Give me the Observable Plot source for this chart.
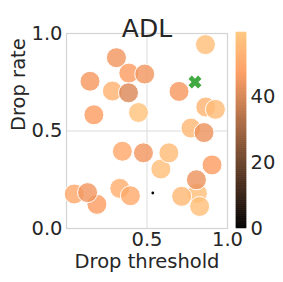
<!DOCTYPE html>
<html><head><meta charset="utf-8">
<script src="https://cdn.jsdelivr.net/npm/d3@7"></script>
<script src="https://cdn.jsdelivr.net/npm/@observablehq/plot@0.6"></script>
<style>
body{margin:0;background:#fff}
#wrap{position:relative;width:283px;height:282px}
#wrap svg{position:absolute;left:0;top:0}
</style>
</head><body><div id="wrap"></div>
<script>
const titleText = "ADL";
const xLabel = "Drop threshold";
const yLabel = "Drop rate";
// draw order matters for overlaps
const dropThreshold = [0.863,0.310,0.285,0.387,0.486,0.146,0.385,0.699,0.170,0.447,0.865,0.925,0.773,0.854,0.347,0.478,0.586,0.636,0.904,0.048,0.189,0.131,0.331,0.397,0.813,0.715,0.827,0.807];
const dropRate =      [0.943,0.876,0.705,0.797,0.792,0.755,0.696,0.703,0.583,0.595,0.623,0.611,0.515,0.492,0.396,0.388,0.305,0.388,0.326,0.177,0.124,0.184,0.206,0.168,0.180,0.165,0.113,0.250];
const colorValue =    [57,45,53,47,45,46,41,46,47,58,54,56,55,44,50,45,57,56,47,50,47,45,52,51,57,55,57,44];
const bestPoint = [{threshold: 0.798, rate: 0.751}];
const minPoint = [{threshold: 0.536, rate: 0.182, value: 0}];
const colorDomain = [0, 59.4];
const colorTicks = [0, 20, 40];
const xTicks = [0.5, 1.0];
const yTicks = [0.0, 0.5, 1.0];

const copper = t => d3.rgb(Math.min(1, 1.25*t)*255, 0.7812*t*255, 0.4975*t*255).formatHex();
const points = dropThreshold.map((x, i) => ({x, y: dropRate[i], v: colorValue[i]}));

const filledX = { draw(ctx, size) {
  const a = Math.sqrt(size / Math.PI), w = a * 0.35, c = Math.SQRT1_2;
  const pts = [[w,a],[w,w],[a,w],[a,-w],[w,-w],[w,-a],[-w,-a],[-w,-w],[-a,-w],[-a,w],[-w,w],[-w,a]];
  pts.forEach(([x,y], i) => { const X = (x-y)*c, Y = (x+y)*c; i ? ctx.lineTo(X,Y) : ctx.moveTo(X,Y); });
  ctx.closePath();
}};

const FS = 19.5;
const common = {
  width: 283, height: 282,
  marginTop: 33, marginBottom: 54,
  style: {fontFamily: "DejaVu Sans", fontSize: FS + "px", color: "#262626", background: "none", overflow: "visible"}
};

const main = Plot.plot({
  ...common,
  marginLeft: 66, marginRight: 56,
  x: {domain: [0, 1]},
  y: {domain: [0, 1]},
  color: {type: "linear", domain: colorDomain, interpolate: copper},
  marks: [
    Plot.gridX([0.5], {stroke: "#dcdcdc", strokeOpacity: 1}),
    Plot.gridY([0.5], {stroke: "#dcdcdc", strokeOpacity: 1}),
    Plot.frame({stroke: "#d4d4d4", strokeWidth: 1.2}),
    Plot.axisX(xTicks, {tickSize: 0, tickPadding: 4, tickFormat: d => d.toFixed(1), fontSize: FS, label: null}),
    Plot.axisY(yTicks, {tickSize: 0, tickPadding: 4, tickFormat: d => d.toFixed(1), fontSize: FS, label: null}),
    Plot.dot(points, {x: "x", y: "y", fill: "v", r: 10, fillOpacity: 0.82, stroke: "white", strokeWidth: 1}),
    Plot.dot(minPoint, {x: "threshold", y: "rate", r: 1.4, fill: "black"}),
    Plot.dot(bestPoint, {x: "threshold", y: "rate", r: 6.8, symbol: filledX, fill: "#2ca02c", fillOpacity: 0.9}),
    Plot.text([titleText], {frameAnchor: "top", dy: -14, fontSize: 25}),
    Plot.text([xLabel], {frameAnchor: "bottom", dy: 39, fontSize: FS}),
    Plot.text([yLabel], {frameAnchor: "left", dx: -48, rotate: -90, fontSize: FS})
  ]
});

const bands = d3.range(0, colorDomain[1], 0.2).map(lo => ({lo, hi: Math.min(lo + 0.2, colorDomain[1])}));
const bar = Plot.plot({
  ...common,
  marginLeft: 236, marginRight: 37,
  marginTop: 32,
  y: {domain: colorDomain},
  color: {type: "linear", domain: colorDomain, interpolate: copper},
  marks: [
    Plot.rect(bands, {y1: "lo", y2: "hi", fill: "lo", stroke: "lo", strokeWidth: 0.5}),
    Plot.axisY(colorTicks, {anchor: "right", tickSize: 0, tickPadding: 4, fontSize: FS, label: null})
  ]
});

const wrap = document.getElementById("wrap");
wrap.append(main, bar);
</script>
</body></html>
